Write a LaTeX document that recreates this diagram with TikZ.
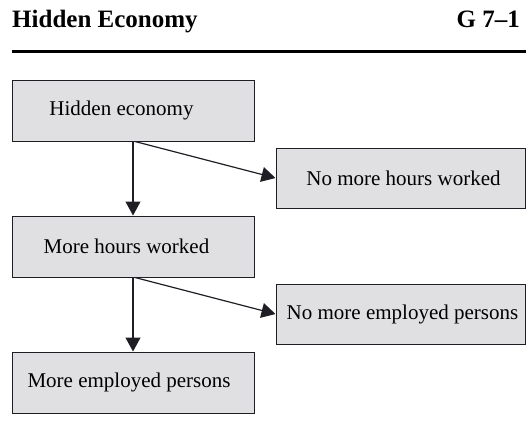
\documentclass[tikz,border=0pt]{standalone}
\usepackage{fontspec}
\setmainfont{Liberation Serif}
\usetikzlibrary{arrows.meta}

\definecolor{boxfill}{RGB}{224,224,226}
\definecolor{boxline}{RGB}{30,30,36}

\tikzset{
  flowbox/.style={draw=boxline, fill=boxfill, line width=1pt, inner sep=0pt,
    minimum width=242pt, minimum height=61pt,
    font=\fontsize{21}{25}\selectfont},
  sidebox/.style={flowbox, minimum width=249pt, minimum height=60pt},
  flowarrow/.style={draw=boxline, line width=1.2pt,
    -{Triangle[length=14pt, width=15pt]}}
}

\begin{document}
\begin{tikzpicture}[x=1pt, y=-1pt]
  \useasboundingbox (0,0) rectangle (526,432);

  % header line
  \node[anchor=base west, inner sep=0pt, font=\fontsize{25}{30}\selectfont\bfseries]
    (title) at (12,27) {Hidden Economy};
  \node[anchor=base east, inner sep=0pt, font=\fontsize{25}{30}\selectfont\bfseries]
    (fig) at (520,27) {G 7--1};
  \draw[line width=2.5pt] (12,51.5) -- (526,51.5);

  % left column
  \node[flowbox] (hidden) at (133,110.5) {Hidden economy\hspace*{23pt}};
  \node[flowbox] (hours) at (133,246.5) {More hours worked\hspace*{13pt}};
  \node[flowbox] (persons) at (133,382.5) {More employed persons\hspace*{8pt}};

  % right column
  \node[sidebox] (nohours) at (400.5,178) {\hspace*{6pt}No more hours worked};
  \node[sidebox] (nopersons) at (400.5,314) {\hspace*{4pt}No more employed persons};

  \draw[flowarrow] (hidden.south) -- (hours.north);
  \draw[flowarrow] ([xshift=2pt]hidden.south) -- (nohours.west);
  \draw[flowarrow] (hours.south) -- (persons.north);
  \draw[flowarrow] ([xshift=2pt]hours.south) -- (nopersons.west);
\end{tikzpicture}
\end{document}
